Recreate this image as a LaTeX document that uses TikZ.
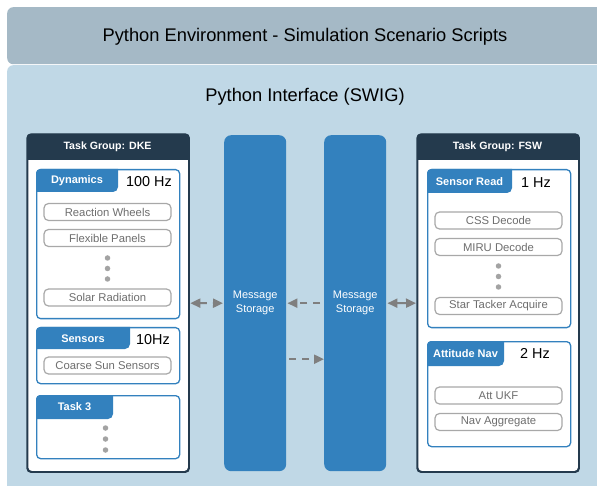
\documentclass[tikz,border=0pt]{standalone}
\usepackage{fontspec}
\setmainfont{Liberation Sans}
\usetikzlibrary{arrows.meta,positioning}

\definecolor{envgray}{HTML}{A5B9C6}
\definecolor{ifblue}{HTML}{C0D8E6}
\definecolor{hdrdark}{HTML}{243A4D}
\definecolor{taskblue}{HTML}{3381BE}
\definecolor{itemgray}{HTML}{A8A8A8}
\definecolor{itemtext}{HTML}{6E6E6E}
\definecolor{dotgray}{HTML}{A3A3A3}
\definecolor{arrowgray}{HTML}{7F7F7F}

\begin{document}
\begin{tikzpicture}[
  x=1pt, y=-1pt,
  envbar/.style={fill=envgray, rounded corners=6pt, anchor=north west, inner sep=0pt},
  ifpanel/.style={fill=ifblue, rounded corners=6pt, anchor=north west, inner sep=0pt},
  bigtext/.style={font=\fontsize{18.3}{22}\selectfont},
  group/.style={draw=hdrdark, line width=1.3pt, fill=white, rounded corners=4pt, anchor=north west, inner sep=0pt},
  grouptitle/.style={text=white, font=\bfseries\fontsize{10.6}{12}\selectfont},
  taskbox/.style={draw=taskblue, line width=1.3pt, rounded corners=4pt, anchor=north west, inner sep=0pt},
  tabtitle/.style={text=white, font=\bfseries\fontsize{11}{13}\selectfont},
  rate/.style={font=\fontsize{14.4}{16}\selectfont},
  item/.style={draw=itemgray, line width=1.2pt, fill=white, rounded corners=4.5pt, minimum width=127pt, minimum height=17pt, inner sep=0pt, text=itemtext, font=\fontsize{11.3}{13}\selectfont},
  dot/.style={circle, fill=dotgray, inner sep=0pt, minimum size=5.5pt},
  storage/.style={fill=taskblue, rounded corners=7pt, anchor=north west, inner sep=0pt, minimum width=62pt, minimum height=336pt, text=white, align=center, font=\fontsize{11}{14}\selectfont},
  link/.style={draw=arrowgray, line width=2pt, dash pattern=on 7pt off 6pt},
  tip/.tip={Triangle[length=10pt, width=9pt]}
]
\useasboundingbox (0,0) rectangle (597,486);

% outer layers
\node[envbar, minimum width=596pt, minimum height=57pt] (env) at (7,7) {};
\node[bigtext] (envtitle) at (305,36.5) {Python Environment - Simulation Scenario Scripts};
\node[ifpanel, minimum width=596pt, minimum height=440pt] (swig) at (7,65) {};
\node[bigtext] (swigtitle) at (305,97) {Python Interface (SWIG)};

% task group DKE
\node[group, minimum width=161pt, minimum height=337pt] (dke) at (27,134) {};
\begin{scope}
  \clip[rounded corners=4pt] (dke.north west) rectangle (dke.south east);
  \fill[hdrdark] (dke.north west) rectangle (188,160);
\end{scope}
\draw[hdrdark, line width=1.3pt, rounded corners=4pt] (dke.north west) rectangle (dke.south east);
\node[grouptitle] (dketitle) at (107.5,147) {Task Group: DKE};

\node[taskbox, minimum width=143pt, minimum height=149pt] (dyn) at (36,169) {};
\begin{scope}
  \clip[rounded corners=4pt] (dyn.north west) rectangle (dyn.south east);
  \fill[taskblue, rounded corners=5pt] (26,159) rectangle (118,192);
\end{scope}
\node[tabtitle] (dyntab) at (77,181) {Dynamics};
\node[rate] (dynrate) at (149,182) {100 Hz};
\node[item] (rw) at (107.5,212) {Reaction Wheels};
\node[item] (flex) at (107.5,238) {Flexible Panels};
\foreach \y in {258,268.5,279}
  \node[dot] at (107.5,\y) {};
\node[item] (srp) at (107.5,297.5) {Solar Radiation};

\node[taskbox, minimum width=143pt, minimum height=56pt] (sens) at (36,327) {};
\begin{scope}
  \clip[rounded corners=4pt] (sens.north west) rectangle (sens.south east);
  \fill[taskblue, rounded corners=5pt] (26,317) rectangle (130,349);
\end{scope}
\node[tabtitle] (senstab) at (83,338.5) {Sensors};
\node[rate] (sensrate) at (153,340) {10Hz};
\node[item] (css) at (107.5,365.5) {Coarse Sun Sensors};

\node[taskbox, minimum width=143pt, minimum height=63pt] (task3) at (36,395) {};
\begin{scope}
  \clip[rounded corners=4pt] (task3.north west) rectangle (task3.south east);
  \fill[taskblue, rounded corners=5pt] (26,385) rectangle (113,419);
\end{scope}
\node[tabtitle] (task3tab) at (74.5,407) {Task 3};
\foreach \y in {428,439,450}
  \node[dot] at (105.5,\y) {};

% message storage
\node[storage] (ms1) at (224,135) {Message\\Storage};
\node[storage] (ms2) at (324,135) {Message\\Storage};

% task group FSW
\node[group, minimum width=161pt, minimum height=337pt] (fsw) at (417,134) {};
\begin{scope}
  \clip[rounded corners=4pt] (fsw.north west) rectangle (fsw.south east);
  \fill[hdrdark] (fsw.north west) rectangle (578,160);
\end{scope}
\draw[hdrdark, line width=1.3pt, rounded corners=4pt] (fsw.north west) rectangle (fsw.south east);
\node[grouptitle] (fswtitle) at (497.5,147) {Task Group: FSW};

\node[taskbox, minimum width=143pt, minimum height=158pt] (sread) at (427,169) {};
\begin{scope}
  \clip[rounded corners=4pt] (sread.north west) rectangle (sread.south east);
  \fill[taskblue, rounded corners=5pt] (417,159) rectangle (512,193);
\end{scope}
\node[tabtitle] (sreadtab) at (469.5,181.5) {Sensor Read};
\node[rate] (sreadrate) at (536,183) {1 Hz};
\node[item] (cssdec) at (498.5,220.5) {CSS Decode};
\node[item] (miru) at (498.5,247) {MIRU Decode};
\foreach \y in {266,276.5,287}
  \node[dot] at (498.5,\y) {};
\node[item] (star) at (498.5,306) {Star Tacker Acquire};

\node[taskbox, minimum width=143pt, minimum height=105pt] (attnav) at (427,341) {};
\begin{scope}
  \clip[rounded corners=4pt] (attnav.north west) rectangle (attnav.south east);
  \fill[taskblue, rounded corners=5pt] (417,331) rectangle (504,366);
\end{scope}
\node[tabtitle] (attnavtab) at (465.5,353.5) {Attitude Nav};
\node[rate] (attnavrate) at (535,353) {2 Hz};
\node[item] (ukf) at (498.5,395.5) {Att UKF};
\node[item] (navagg) at (498.5,422) {Nav Aggregate};

% message links
\draw[link, tip-tip, shorten <=1pt, shorten >=1pt] (dke.east) -- (ms1.west);
\draw[link, -tip, shorten <=4pt, shorten >=1pt] (ms2.west) -- (ms1.east);
\draw[link, -tip, shorten <=3pt] ([yshift=-56pt]ms1.east) -- ([yshift=-56pt]ms2.west);
\draw[link, solid, tip-tip, shorten <=1pt, shorten >=1pt] (ms2.east) -- (fsw.west);

\end{tikzpicture}
\end{document}
